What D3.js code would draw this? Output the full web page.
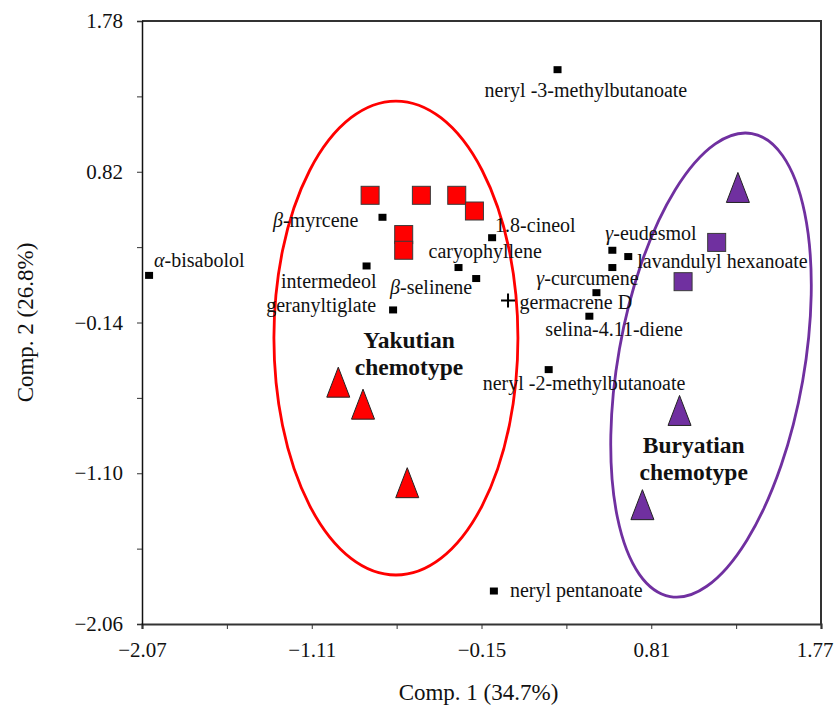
<!DOCTYPE html>
<html>
<head>
<meta charset="utf-8">
<script src="https://cdn.jsdelivr.net/npm/d3@7"></script>
<style>
  body { margin: 0; background: #fff; }
  svg text { font-family: "Liberation Serif", "Times New Roman", serif; fill: #111; }
</style>
</head>
<body>
<svg id="chart" width="834" height="708"></svg>
<script>
/*global d3*/

// PCA loadings (compounds) and sample scores
var compoundNames = ["α-bisabolol", "neryl -3-methylbutanoate", "β-myrcene", "1.8-cineol",
  "caryophyllene", "intermedeol", "β-selinene", "geranyltiglate", "γ-eudesmol",
  "lavandulyl hexanoate", "γ-curcumene", "germacrene D", "selina-4.11-diene",
  "neryl -2-methylbutanoate", "neryl pentanoate"];
var compoundX = [-2.03, 0.28, -0.71, -0.09, -0.28, -0.80, -0.18, -0.65, 0.59, 0.68, 0.59, 0.50, 0.46, 0.23, -0.08];
var compoundY = [0.16, 1.47, 0.53, 0.40, 0.21, 0.22, 0.14, -0.06, 0.32, 0.28, 0.21, 0.05, -0.10, -0.44, -1.85];

var yakutSquareX = [-0.78, -0.49, -0.29, -0.19, -0.59, -0.59];
var yakutSquareY = [0.67, 0.67, 0.67, 0.57, 0.42, 0.32];
var yakutTriangleX = [-0.96, -0.82, -0.57];
var yakutTriangleY = [-0.52, -0.66, -1.16];
var buryatSquareX = [1.18, 0.99];
var buryatSquareY = [0.37, 0.12];
var buryatTriangleX = [1.30, 0.97, 0.76];
var buryatTriangleY = [0.72, -0.70, -1.30];

// chemotype ellipses: centre, half-axes (data units), tilt in degrees
var groupNames = ["Yakutian", "Buryatian"];
var groupCx = [-0.634, 1.148];
var groupCy = [-0.239, -0.411];
var groupRx = [0.69, 0.526];
var groupRy = [1.509, 1.497];
var groupTilt = [0, 10];
var groupLabelX = [-0.56, 1.05];
var groupLabelY = [-0.30, -0.97];

var xTicks = [-2.07, -1.59, -1.11, -0.63, -0.15, 0.33, 0.81, 1.29, 1.77];
var yTicks = [-2.06, -1.58, -1.10, -0.62, -0.14, 0.34, 0.82, 1.30, 1.78];
var xTitle = "Comp. 1 (34.7%)";
var yTitle = "Comp. 2 (26.8%)";

var RED = "#ff0000";
var PURPLE = "#7030a0";

var margin = {top: 21, right: 13, bottom: 84, left: 142};
var width = 834 - margin.left - margin.right;
var height = 708 - margin.top - margin.bottom;

var svg = d3.select("#chart");
var g = svg.append("g").attr("transform", "translate(" + margin.left + "," + margin.top + ")");

var x = d3.scaleLinear().domain([xTicks[0], xTicks[xTicks.length - 1]]).range([0, width]);
var y = d3.scaleLinear().domain([yTicks[0], yTicks[yTicks.length - 1]]).range([height, 0]);

function fmt(v) {
  "use strict";
  return (v < 0 ? "\u2212" : "") + Math.abs(v).toFixed(2);
}

// frame (top / right)
g.append("path")
  .attr("d", "M0,0H" + width + "V" + height)
  .attr("fill", "none")
  .attr("stroke", "#333")
  .attr("stroke-width", 2);

var xAxis = g.append("g")
  .attr("transform", "translate(0," + height + ")")
  .call(d3.axisBottom(x).tickValues(xTicks).tickSize(5).tickPadding(13)
    .tickFormat(function(d, i) { return i % 2 === 0 ? fmt(d) : ""; }));
var yAxis = g.append("g")
  .call(d3.axisLeft(y).tickValues(yTicks).tickSize(5).tickPadding(14)
    .tickFormat(function(d, i) { return i % 2 === 0 ? fmt(d) : ""; }));

[xAxis, yAxis].forEach(function(a) {
  a.selectAll("text").style("font-family", "Liberation Serif").style("font-size", "21px").attr("fill", "#111");
  a.selectAll("line").attr("stroke", "#333");
});
// last x label sits against the right edge of the page
xAxis.selectAll(".tick text").filter(function(d) { return d === xTicks[xTicks.length - 1]; })
  .attr("text-anchor", "end").attr("dx", 12);
xAxis.select(".domain").attr("stroke", "#333").attr("stroke-width", 2.2);
yAxis.select(".domain").attr("stroke", "#111").attr("stroke-width", 1.5);

g.append("text")
  .attr("x", width / 2 - 3)
  .attr("y", height + 76)
  .attr("text-anchor", "middle")
  .style("font-size", "23px")
  .text(xTitle);
g.append("text")
  .attr("transform", "translate(" + (-109) + "," + (height / 2) + ") rotate(-90)")
  .attr("text-anchor", "middle")
  .style("font-size", "23px")
  .text(yTitle);

// ellipses
var groupColor = [RED, PURPLE];
groupNames.forEach(function(name, i) {
  var cx = x(groupCx[i]), cy = y(groupCy[i]);
  g.append("ellipse")
    .attr("cx", 0).attr("cy", 0)
    .attr("rx", x(groupRx[i]) - x(0))
    .attr("ry", y(0) - y(groupRy[i]))
    .attr("transform", "translate(" + cx + "," + cy + ") rotate(" + groupTilt[i] + ")")
    .attr("fill", "none")
    .attr("stroke", groupColor[i])
    .attr("stroke-width", 2.8);
  var t = g.append("text")
    .attr("x", x(groupLabelX[i]))
    .attr("y", y(groupLabelY[i]))
    .attr("text-anchor", "middle")
    .style("font-size", "23.5px")
    .style("font-weight", "bold");
  t.append("tspan").attr("x", x(groupLabelX[i])).text(name);
  t.append("tspan").attr("x", x(groupLabelX[i])).attr("dy", 27).text("chemotype");
});

// compound labels: offset from the point in px, and anchor
var labelDx = [5, -73, -24, 3, -30, 10, -4, -17, -7, 9, -76, -77, -44, -66, 16];
var labelDy = [-8, 27, 10, -6, -10, 22, 15, 2, -10, 11, 17, 16, 20, 20, 6];
var labelAnchor = ["start", "start", "end", "start", "start", "end", "end", "end", "start",
  "start", "start", "start", "start", "start", "start"];

var compounds = compoundNames.map(function(n, i) {
  return {name: n, x: compoundX[i], y: compoundY[i], dx: labelDx[i], dy: labelDy[i], anchor: labelAnchor[i]};
});

g.selectAll(".cpt").data(compounds).enter().append("rect")
  .attr("class", "cpt")
  .attr("x", function(d) { return x(d.x) - 4; })
  .attr("y", function(d) { return y(d.y) - 3.5; })
  .attr("width", 8).attr("height", 7)
  .attr("fill", "#000");

var labels = g.selectAll(".clab").data(compounds).enter().append("text")
  .attr("class", "clab")
  .attr("x", function(d) { return x(d.x) + d.dx; })
  .attr("y", function(d) { return y(d.y) + d.dy; })
  .attr("text-anchor", function(d) { return d.anchor; })
  .style("font-size", "20px");
labels.each(function(d) {
  var t = d3.select(this);
  if (/^[αβγ]/.test(d.name)) {
    t.append("tspan").style("font-style", "italic").text(d.name.charAt(0));
    t.append("tspan").text(d.name.slice(1));
  } else {
    t.text(d.name);
  }
});

// origin cross
g.append("path")
  .attr("d", "M" + (x(0) - 7) + "," + y(0) + "h14M" + x(0) + "," + (y(0) - 7) + "v14")
  .attr("stroke", "#000")
  .attr("stroke-width", 2);

// samples
function squares(xs, ys, color) {
  "use strict";
  g.selectAll(null).data(xs).enter().append("rect")
    .attr("x", function(d) { return x(d) - 9; })
    .attr("y", function(d, i) { return y(ys[i]) - 9; })
    .attr("width", 18).attr("height", 18)
    .attr("fill", color)
    .attr("stroke", "#3a3a3a")
    .attr("stroke-width", 1);
}
function triangles(xs, ys, color) {
  "use strict";
  g.selectAll(null).data(xs).enter().append("path")
    .attr("d", "M0,-15L11.5,15H-11.5Z")
    .attr("transform", function(d, i) { return "translate(" + x(d) + "," + y(ys[i]) + ")"; })
    .attr("fill", color)
    .attr("stroke", "#222")
    .attr("stroke-width", 1);
}
squares(yakutSquareX, yakutSquareY, RED);
triangles(yakutTriangleX, yakutTriangleY, RED);
squares(buryatSquareX, buryatSquareY, PURPLE);
triangles(buryatTriangleX, buryatTriangleY, PURPLE);
</script>
</body>
</html>
